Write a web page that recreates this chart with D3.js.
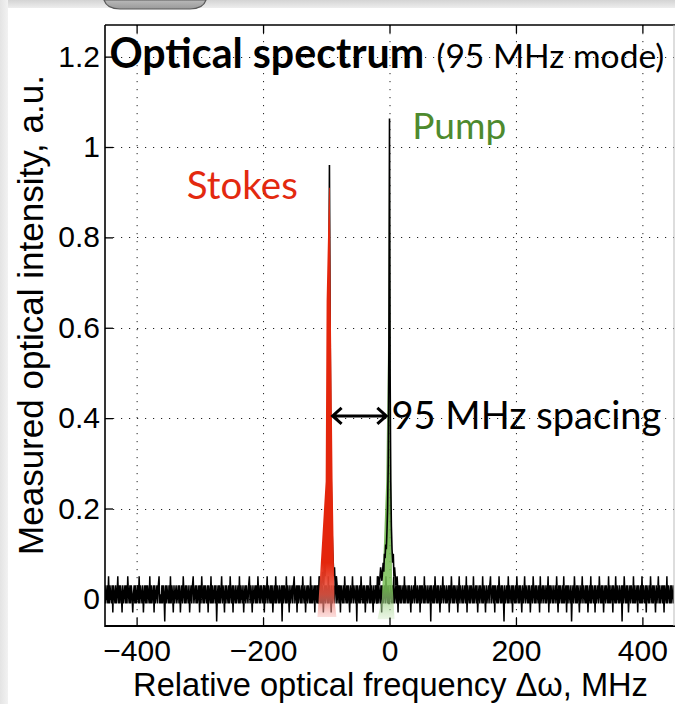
<!DOCTYPE html>
<html><head><meta charset="utf-8">
<script src="https://cdn.jsdelivr.net/npm/d3@7"></script>
<style>body{margin:0;background:#fff}svg{display:block}</style>
</head><body><svg id="c" width="675" height="704"></svg>
<script>
// ---------------- data ----------------
const xTicks = [-400, -200, 0, 200, 400];
const yTicks = [0, 0.2, 0.4, 0.6, 0.8, 1, 1.2];
const yTickLabels = ["0", "0.2", "0.4", "0.6", "0.8", "1", "1.2"];
const xTickLabels = ["\u2212400", "\u2212200", "0", "200", "400"];

// baseline detector noise, sampled every freqStep MHz from freqStart
const freqStart = -450, freqStep = 1.125;
const noise = [
.03,-.01,.01,.03,-.01,.05,-.01,.03,.01,-.01,.03,-.03,.03,.01,-.01,.03,-.01,.01,.05,-.01,
.03,-.01,.03,.01,-.03,.03,-.01,.01,.03,-.01,.03,-.01,.05,.01,-.01,.03,-.01,.03,.01,-.03,
.01,.03,-.01,.03,-.01,.01,.03,-.01,.05,-.01,.03,.01,-.01,.03,-.03,.01,.03,-.01,.03,-.01,
.03,.01,-.01,.05,-.01,.03,-.01,.01,.03,-.03,.03,-.01,.01,.03,-.01,.03,.05,-.01,.01,-.01,
.03,-.01,.03,.01,-.05,.03,-.01,.03,.01,-.01,.03,-.01,.05,-.01,.03,.01,-.03,.03,-.01,.01,
.03,-.01,.01,.03,-.01,.03,-.03,.01,.03,-.01,.05,.01,-.01,.03,-.01,.03,.01,-.01,.03,-.03,
.01,.03,-.01,.03,.05,-.01,.01,.03,-.01,.03,-.01,.01,.03,-.03,.03,-.01,.05,.01,-.01,.03,
-.01,.03,.01,-.01,.03,-.03,.03,.01,-.01,.05,-.01,.03,-.01,.01,.03,-.01,.03,-.05,.01,.03,
-.01,.03,-.01,.01,.05,-.01,.03,.01,-.03,.03,-.01,.03,.01,-.01,.03,-.01,.05,.01,-.01,.03,
-.03,.03,.01,-.01,.03,-.01,.01,.03,-.01,.05,-.01,.03,.01,-.01,.03,-.03,.01,.03,-.01,.03,
.01,-.01,.03,.05,-.01,.03,.01,-.03,.03,-.01,.01,.03,-.01,.03,-.01,.05,.01,-.01,.03,-.01,
.03,.01,-.01,.03,-.03,.03,-.01,.01,.05,-.01,.03,.01,-.01,.03,-.01,.03,-.03,.01,.03,-.01,
.05,-.01,.03,.01,-.01,.03,-.01,.01,.03,-.05,.03,-.01,.03,.01,-.01,.05,-.01,.03,.01,-.03,
.03,-.01,.01,.03,-.01,.03,.05,-.01,.01,.03,-.03,.03,-.01,.03,.01,-.01,.03,-.01,.05,.01,
-.01,.03,-.03,.01,.03,-.01,.03,.01,-.01,.05,-.01,.03,-.01,.01,.03,-.03,.03,.01,-.01,.03,
-.01,.05,.01,-.01,.03,-.01,.03,-.03,.01,.03,-.01,.03,.01,-.01,.05,-.01,.03,.01,-.03,.03,
-.01,.01,.03,-.01,.03,.05,-.01,.01,.03,-.01,.03,-.03,.03,.01,-.01,.03,-.01,.05,.01,-.01,
.03,-.01,.03,.01,-.03,.03,-.01,.01,.05,-.01,.03,.01,-.01,.03,-.05,.03,.01,-.01,.03,-.01,
.05,.01,-.01,.03,-.01,.03,-.03,.01,.03,-.01,.03,.01,-.01,.05,-.01,.03,.01,-.03,.03,-.01,
.01,.03,-.01,.05,-.01,.03,.01,-.01,.03,-.03,.03,-.01,.01,.03,-.01,.05,.01,-.01,.03,-.01,
-.01,.03,.01,-.01,.03,-.01,.05,-.01,.01,.03,-.01,.03,-.03,.03,.01,-.01,.03,-.01,.01,.03,
-.01,.05,-.01,.03,.01,-.01,.03,-.01,.03,.01,-.03,.03,-.01,.01,.03,-.01,.05,.01,-.01,.03,
-.01,.01,.03,-.03,.03,-.01,.03,.01,-.01,.05,-.01,.03,.01,-.01,.03,-.01,.01,.03,-.05,.03,
.01,-.01,.03,-.01,.05,.01,-.01,.03,-.01,.03,.01,-.03,.03,-.01,.01,.05,-.01,.03,.01,-.01,
.03,-.01,.01,.03,-.03,.03,-.01,.05,.01,-.01,.03,-.01,.03,.01,-.01,.03,-.03,.01,.05,-.01,
.03,.01,-.01,.03,-.01,.01,.03,-.01,.05,-.03,.03,.01,-.01,.03,-.01,.03,.01,-.01,.05,-.01,
.01,.03,-.01,.03,-.03,.01,.03,-.01,.03,.01,-.01,.05,-.01,.03,.01,-.03,.03,-.01,.01,.03,
-.01,.03,.05,-.01,.01,.03,-.01,.03,-.03,.03,.01,-.01,.03,-.01,.05,.01,-.01,.03,-.01,.03,
.01,-.05,.03,-.01,.01,.03,-.01,.05,-.01,.03,.01,-.01,.03,-.03,.03,.01,-.01,.03,-.01,.05,
.01,-.01,.03,-.01,.03,.01,-.03,.03,-.01,.01,.05,-.01,.03,.01,-.01,.03,-.01,.03,-.03,.01,
.03,-.01,.05,.01,-.01,.03,-.01,.03,.01,-.01,.03,-.03,.05,-.01,.01,.03,-.01,.03,.01,-.01,
.03,-.01,.01,.05,-.03,.03,-.01,.03,.01,-.01,.03,-.01,.01,.03,-.01,.05,.01,-.03,.03,-.01,
.03,.01,-.01,.03,-.01,.05,-.01,.01,.03,-.03,.03,-.01,.03,.01,-.01,.03,-.05,.01,.03,-.01,
.05,.01,-.01,.03,-.01,.03,.01,-.03,.03,-.01,.01,.05,-.01,.03,.01,-.01,.03,-.01,.03,-.03,
.01,.03,-.01,.05,-.01,.03,.01,-.01,.03,-.03,.03,-.01,.01,.03,-.01,.05,.01,-.01,.03,-.01,
.03,-.03,.01,.03,-.01,.03,.01,-.01,.05,-.01,.03,-.01,.01,.03,-.03,.03,.01,-.01,.05,-.01,
.03,.01,-.01,.03,-.01,.01,.03,-.05,.03,-.01,.05,.01,-.01,.03,-.01,.03,-.03,.01,.03,-.01,
.03,.01,-.01,.05,-.01,.03,-.01,.01,.03,-.03,.03,.01,-.01,.03,-.01,.05,-.01,.03,.01,-.01,
.03,-.03,.03,.01,-.01,.03,-.01,.05,.01,-.01,.03,-.01,.03,.01,-.03,.03,-.01,.01,.05,-.01,
.03,-.01,.01,.03,-.01,.03,-.03,.03,.01,-.01,.05,-.01,.03,.01,-.01,.03,-.01,.03,.01,-.01,
.03
];

// Stokes line (MHz, intensity)
const stokesFreq = [-115,-112,-110,-108,-106,-104,-103,-102,-101,-100,-99,-98,-97,-96,-95,-94,-93,-92,-91,-90,-89,-88,-87,-86,-84,-82,-80];
const stokesVal  = [.03,-.01,.05,.01,.06,.03,.08,.05,.09,.12,.16,.24,.38,.62,.96,.62,.38,.24,.16,.11,.08,.05,.07,.03,.05,.01,.03];
// Pump line (MHz, intensity)
const pumpFreq = [-22,-20,-18,-16,-14,-12,-10,-9,-8,-7,-6,-5,-4,-3,-2,-1,0,1,2,3,4,5,6,7,8,10,12,14,16];
const pumpVal  = [.03,-.01,.05,.03,.07,.04,.08,.06,.10,.09,.12,.11,.15,.20,.30,.55,1.063,.50,.26,.16,.11,.08,.10,.05,.07,.03,.05,-.01,.03];

// coloured highlight outlines under the two lines (MHz, intensity)
const stokesGlowFreq = [-95.6,-94.4,-93,-90,-87,-84,-114,-112,-101,-99.5];
const stokesGlowVal  = [.91,.91,.66,.26,0,-.04,-.04,0,.26,.66];
const pumpGlowFreq = [-0.8,0.8,1.5,2.7,4,8,-19,-12,-5.2,-2];
const pumpGlowVal  = [.98,.98,.6,.26,.05,-.045,-.045,0,.26,.6];

const titleBold = "Optical spectrum";
const titleRest = "(95 MHz mode)";
const stokesLabel = "Stokes";
const pumpLabel = "Pump";
const spacingLabel = "95 MHz spacing";
const xLabel = "Relative optical frequency \u0394\u03c9, MHz";
const yLabel = "Measured optical intensity, a.u.";

// ---------------- drawing ----------------
const svg = d3.select("#c");
const W = 675, H = 704;
const L = 105, R = 674, T = 25, B = 626;
const x = d3.scaleLinear([-450, 450], [L, R]);
const y = d3.scaleLinear([-0.06, 1.27], [B, T]);

const defs = svg.append("defs");
const gTop = defs.append("linearGradient").attr("id","gTop").attr("x1",0).attr("y1",0).attr("x2",0).attr("y2",1);
gTop.append("stop").attr("offset",0).attr("stop-color","#d4d4d4");
gTop.append("stop").attr("offset",1).attr("stop-color","#ededed");
const gLeft = defs.append("linearGradient").attr("id","gLeft").attr("x1",0).attr("y1",0).attr("x2",1).attr("y2",0);
gLeft.append("stop").attr("offset",0).attr("stop-color","#e4e4e4");
gLeft.append("stop").attr("offset",1).attr("stop-color","#f2f2f2");
const gBadge = defs.append("linearGradient").attr("id","gBadge").attr("x1",0).attr("y1",0).attr("x2",0).attr("y2",1);
gBadge.append("stop").attr("offset",0).attr("stop-color","#b9b9b9");
gBadge.append("stop").attr("offset",1).attr("stop-color","#9a9a9a");

svg.append("rect").attr("width",W).attr("height",H).attr("fill","#fff");
svg.append("rect").attr("x",0).attr("y",0).attr("width",W).attr("height",8).attr("fill","url(#gTop)");
svg.append("rect").attr("x",0).attr("y",0).attr("width",8).attr("height",H).attr("fill","url(#gLeft)");
svg.append("path").attr("d","M104,0 Q107,9 120,9 L190,9 Q203,9 206,0 Z")
  .attr("fill","url(#gBadge)").attr("stroke","#5a5a5a").attr("stroke-width",1.2);

function vgrad(id, stops){
  const g = defs.append("linearGradient").attr("id",id).attr("gradientUnits","userSpaceOnUse")
    .attr("x1",0).attr("x2",0).attr("y1",y(1.1)).attr("y2",y(-0.05));
  stops.forEach(s => g.append("stop").attr("offset",(y(s[0])-y(1.1))/(y(-0.05)-y(1.1)))
    .attr("stop-color",s[1]).attr("stop-opacity",s[2]));
}
vgrad("gRed", [[1.1,"#e4260c",1],[0.08,"#e4260c",1],[0.01,"#ee5a48",0.85],[-0.05,"#f7c4c4",0.35]]);
vgrad("gGreen", [[1.1,"#5f9e3a",0.35],[0.6,"#5f9e3a",0.55],[0.2,"#69b044",0.9],[0.02,"#7cc25a",0.85],[-0.05,"#cfe8c2",0.35]]);

defs.append("clipPath").attr("id","plotClip").append("rect")
  .attr("x",L).attr("y",T).attr("width",R-L).attr("height",B-T);

// grid
const grid = svg.append("g").attr("stroke","#222").attr("stroke-width",1).attr("stroke-dasharray","1.2,6.8");
grid.selectAll(".gx").data(xTicks).join("line").attr("x1",d=>x(d)+0.5).attr("x2",d=>x(d)+0.5).attr("y1",T).attr("y2",B);
grid.selectAll(".gy").data(yTicks).join("line").attr("y1",d=>Math.round(y(d))+0.5).attr("y2",d=>Math.round(y(d))+0.5).attr("x1",L).attr("x2",R);

const plot = svg.append("g").attr("clip-path","url(#plotClip)");
const line = d3.line().x(d=>x(d[0])).y(d=>y(d[1]));
const noisePts = noise.map((v,i)=>[freqStart + i*freqStep, v]);
plot.append("path").attr("d", line(noisePts)).attr("fill","none").attr("stroke","#000").attr("stroke-width",1.5);

const stokesPts = stokesFreq.map((f,i)=>[f, stokesVal[i]]);
const pumpPts = pumpFreq.map((f,i)=>[f, pumpVal[i]]);
const stokesGlow = stokesGlowFreq.map((f,i)=>[f, stokesGlowVal[i]]);
const pumpGlow = pumpGlowFreq.map((f,i)=>[f, pumpGlowVal[i]]);

plot.append("path").attr("d", line(stokesPts)).attr("fill","none").attr("stroke","#000").attr("stroke-width",1.6);
plot.append("path").attr("d", line(stokesGlow)+"Z").attr("fill","url(#gRed)");
plot.append("path").attr("d", line(pumpGlow)+"Z").attr("fill","url(#gGreen)");
plot.append("path").attr("d", line(pumpPts)).attr("fill","none").attr("stroke","#000").attr("stroke-width",1.6);

// axes box and inward ticks
const axisFont = "'Liberation Sans', Arial, sans-serif";
const ax = svg.append("g").attr("transform",`translate(0,${B})`)
  .call(d3.axisBottom(x).tickValues(xTicks).tickFormat((d,i)=>xTickLabels[i]).tickSize(-8).tickPadding(14));
const ay = svg.append("g").attr("transform",`translate(${L},0)`)
  .call(d3.axisLeft(y).tickValues(yTicks).tickFormat((d,i)=>yTickLabels[i]).tickSize(-8).tickPadding(5));
const at = svg.append("g").attr("transform",`translate(0,${T})`)
  .call(d3.axisTop(x).tickValues(xTicks).tickFormat("").tickSize(-8));
[ax,ay,at].forEach(g=>{
  g.select(".domain").remove();
  g.selectAll(".tick line").attr("stroke","#000").attr("stroke-width",1.3);
  g.selectAll("text").attr("fill","#000").style("font-family",axisFont).style("font-size","30px");
});
svg.append("line").attr("x1",L).attr("x2",R+1).attr("y1",T).attr("y2",T).attr("stroke","#000").attr("stroke-width",1.3);
svg.append("line").attr("x1",L).attr("x2",R+1).attr("y1",B).attr("y2",B).attr("stroke","#000").attr("stroke-width",2);
svg.append("line").attr("x1",L).attr("x2",L).attr("y1",T).attr("y2",B+1).attr("stroke","#000").attr("stroke-width",1.6);
svg.append("line").attr("x1",R).attr("x2",R).attr("y1",T).attr("y2",B).attr("stroke","#bbb").attr("stroke-width",1);

function fit(sel, w){
  sel.style("font-size","100px");
  const len = sel.node().getComputedTextLength();
  sel.style("font-size",(100*w/len)+"px");
  return sel;
}
const gill = "'Lato', 'Open Sans', sans-serif";

// axis titles
fit(svg.append("text").attr("x",(133+648)/2).attr("y",696).attr("text-anchor","middle")
  .style("font-family",axisFont).attr("fill","#000").text(xLabel), 515);
fit(svg.append("text").attr("transform",`translate(43,${(75+555)/2}) rotate(-90)`).attr("text-anchor","middle")
  .style("font-family",axisFont).attr("fill","#000").text(yLabel), 480);

// title
fit(svg.append("text").attr("x",x(-443)).attr("y",68).style("font-family",gill).style("font-weight","bold")
  .attr("fill","#000").text(titleBold), 315);
fit(svg.append("text").attr("x",x(-443)+327).attr("y",68).style("font-family",gill)
  .attr("fill","#000").text(titleRest), 228);

// annotations
fit(svg.append("text").attr("x",x(-145)).attr("y",y(0.885)).attr("text-anchor","end").style("font-family",gill)
  .attr("fill","#e3290f").text(stokesLabel), 111);
fit(svg.append("text").attr("x",x(36)).attr("y",y(1.018)).style("font-family",gill)
  .attr("fill","#4e8a2e").text(pumpLabel), 94);
fit(svg.append("text").attr("x",x(3)).attr("y",y(0.375)).style("font-family",gill)
  .attr("fill","#000").text(spacingLabel), 270);

const ax1 = x(-90), ax2 = x(-5), ayy = y(0.405);
svg.append("path")
  .attr("d",`M${ax1},${ayy} L${ax2},${ayy} M${ax1+9},${ayy-8} L${ax1},${ayy} L${ax1+9},${ayy+8} M${ax2-9},${ayy-8} L${ax2},${ayy} L${ax2-9},${ayy+8}`)
  .attr("fill","none").attr("stroke","#000").attr("stroke-width",3).attr("stroke-linejoin","miter");
</script>
</body></html>
